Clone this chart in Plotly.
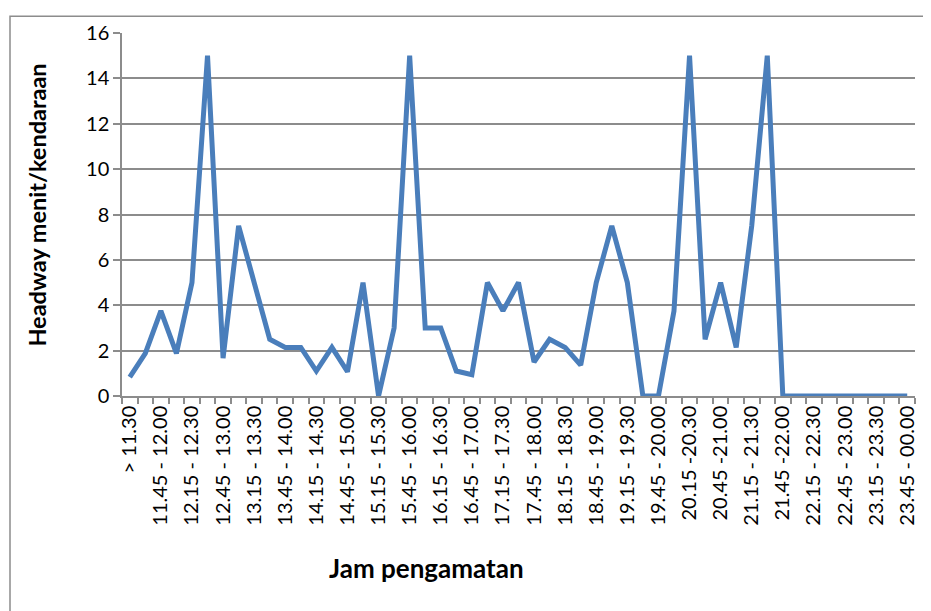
import plotly.graph_objects as go

categories = [
    "> 11.30", "11.30 - 11.45", "11.45 - 12.00", "12.00 - 12.15", "12.15 - 12.30",
    "12.30 - 12.45", "12.45 - 13.00", "13.00 - 13.15", "13.15 - 13.30", "13.30 - 13.45",
    "13.45 - 14.00", "14.00 - 14.15", "14.15 - 14.30", "14.30 - 14.45", "14.45 - 15.00",
    "15.00 - 15.15", "15.15 - 15.30", "15.30 - 15.45", "15.45 - 16.00", "16.00 - 16.15",
    "16.15 - 16.30", "16.30 - 16.45", "16.45 - 17.00", "17.00 - 17.15", "17.15 - 17.30",
    "17.30 - 17.45", "17.45 - 18.00", "18.00 - 18.15", "18.15 - 18.30", "18.30 - 18.45",
    "18.45 - 19.00", "19.00 - 19.15", "19.15 - 19.30", "19.30 - 19.45", "19.45 - 20.00",
    "20.00 - 20.15", "20.15 -20.30", "20.30 - 20.45", "20.45 -21.00", "21.00 - 21.15",
    "21.15 - 21.30", "21.30 - 21.45", "21.45 -22.00", "22.00 - 22.15", "22.15 - 22.30",
    "22.30 - 22.45", "22.45 - 23.00", "23.00 - 23.15", "23.15 - 23.30", "23.30 - 23.45",
    "23.45 - 00.00",
]

headway = [
    0.83, 1.875, 3.75, 1.875, 5, 15, 1.67, 7.5, 5, 2.5,
    2.14, 2.14, 1.1, 2.14, 1.07, 5, 0, 3, 15, 3,
    3, 1.1, 0.94, 5, 3.75, 5, 1.5, 2.5, 2.14, 1.36,
    5, 7.5, 5, 0, 0, 3.75, 15, 2.5, 5, 2.14,
    7.5, 15, 0, 0, 0, 0, 0, 0, 0, 0,
    0,
]

x_pos = list(range(len(categories)))
tick_pos = x_pos[::2]
tick_text = categories[::2]

FONT = "Lato, Arial, sans-serif"
GRID = "#8c8c8c"

# page body has an 8px margin, so positions below are shifted by -8
W, H = 931, 611
L, R, T, B = 114, 24, 20, 223
pw, ph = W - L - R, H - T - B


def px_x(x):
    return (x - 8 - L) / pw


def px_y(y):
    return (H - B - (y - 8)) / ph


fig = go.Figure()
fig.add_trace(go.Scatter(
    x=x_pos, y=headway, mode="lines",
    line=dict(color="#4a7ebb", width=5),
    showlegend=False,
))

fig.update_layout(
    width=W, height=H,
    margin=dict(l=L, r=R, t=T, b=B),
    paper_bgcolor="white", plot_bgcolor="white",
    font=dict(family=FONT, color="black"),
    xaxis=dict(
        range=[-0.5, len(categories) - 0.5],
        tickmode="array", tickvals=tick_pos, ticktext=tick_text,
        tickangle=-90, ticks="", showgrid=False,
        tickfont=dict(size=20, family=FONT),
        showline=True, linecolor=GRID, linewidth=1.5,
        minor=dict(tick0=-0.5, dtick=1, ticks="outside", ticklen=6,
                   tickcolor=GRID, tickwidth=1.5, showgrid=False),
        zeroline=False,
    ),
    yaxis=dict(
        range=[0, 16], dtick=2,
        ticks="outside", ticklen=7, tickcolor=GRID, tickwidth=1.5,
        tickfont=dict(size=20, family=FONT),
        showgrid=True, gridcolor=GRID, gridwidth=1.5,
        showline=True, linecolor=GRID, linewidth=1.5,
        zeroline=False,
    ),
)

fig.add_annotation(
    text="<b>Headway menit/kendaraan</b>", textangle=-90,
    xref="paper", yref="paper", x=px_x(37), y=px_y(203),
    xanchor="center", yanchor="middle",
    showarrow=False, font=dict(size=23.5, family=FONT),
)
fig.add_annotation(
    text="<b>Jam pengamatan</b>",
    xref="paper", yref="paper", x=px_x(426), y=px_y(570),
    xanchor="center", yanchor="middle",
    showarrow=False, font=dict(size=26, family=FONT),
)

# outer chart border (cut off at right and bottom)
fig.add_shape(
    type="rect", xref="paper", yref="paper",
    x0=px_x(10), y0=px_y(H + 20), x1=px_x(W + 20), y1=px_y(11),
    line=dict(color="#8c8c8c", width=1.5), layer="below",
)

fig.write_html("out.html")
